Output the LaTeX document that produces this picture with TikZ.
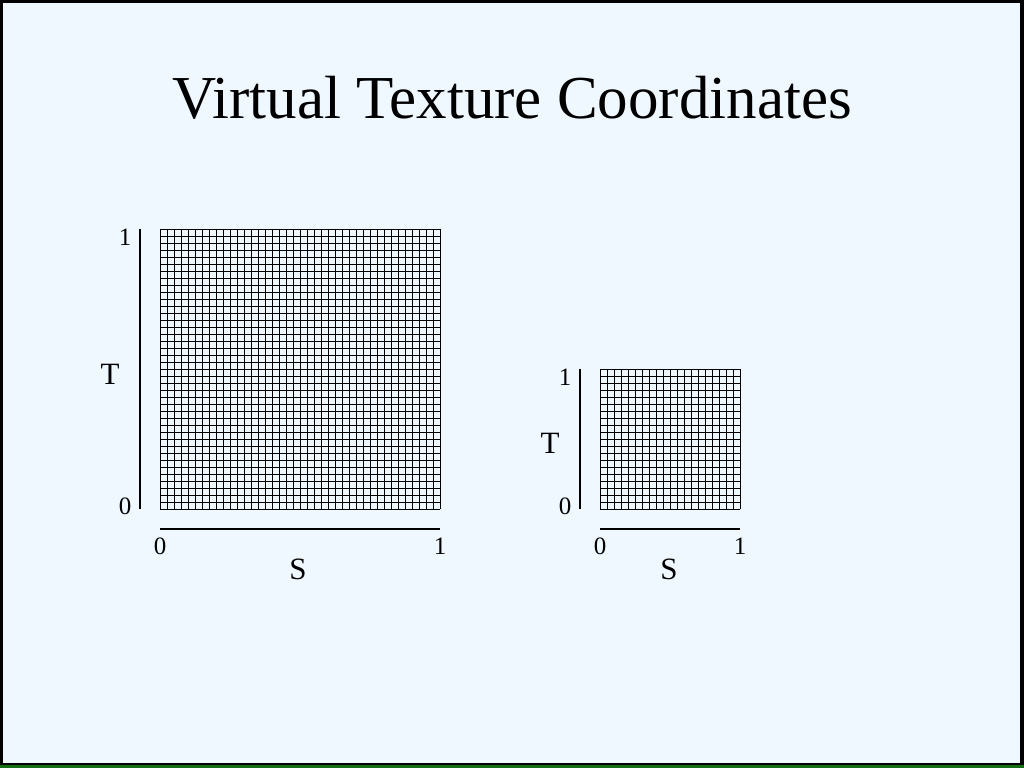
\documentclass[tikz,border=0pt]{standalone}
\usepackage{fontspec}
\setmainfont{Liberation Serif}
\definecolor{bgblue}{RGB}{240,248,255}
\definecolor{edgegreen}{RGB}{20,110,20}
\begin{document}
\begin{tikzpicture}[x=1pt,y=-1pt,
  gridline/.style={line width=1pt,black},
  axisline/.style={line width=2.6pt,black},
  ticklabel/.style={font=\fontsize{25}{25}\selectfont,inner sep=0pt},
  axislabel/.style={font=\fontsize{31}{31}\selectfont,inner sep=0pt}]
\useasboundingbox (0,0) rectangle (1024,768);
\fill[black] (0,0) rectangle (1024,768);
\fill[bgblue] (3,3) rectangle (1020,763);
\fill[edgegreen] (0,765) rectangle (1024,768);
\node[font=\fontsize{61}{61}\selectfont,inner sep=0pt] (title) at (512,98) {Virtual Texture Coordinates};
% large grid
\foreach \i in {0,...,40} {
  \draw[gridline] (160+7*\i,229) -- (160+7*\i,509);
  \draw[gridline] (160,229+7*\i) -- (440,229+7*\i);
}
\coordinate (lvt) at (140,229); \coordinate (lvb) at (140,509);
\coordinate (lhl) at (160,529); \coordinate (lhr) at (440,529);
\draw[axisline] (lvt) -- (lvb);
\draw[axisline] (lhl) -- (lhr);
\node[ticklabel] (l1) at (125,237) {1};
\node[ticklabel] (l0) at (125,506) {0};
\node[axislabel] (lT) at (110,374) {T};
\node[ticklabel] (ls0) at (160,546) {0};
\node[ticklabel] (ls1) at (440,546) {1};
\node[axislabel] (lS) at (298,569) {S};
% small grid
\foreach \i in {0,...,20} {
  \draw[gridline] (600+7*\i,369) -- (600+7*\i,509);
  \draw[gridline] (600,369+7*\i) -- (740,369+7*\i);
}
\coordinate (svt) at (580,369); \coordinate (svb) at (580,509);
\coordinate (shl) at (600,529); \coordinate (shr) at (740,529);
\draw[axisline] (svt) -- (svb);
\draw[axisline] (shl) -- (shr);
\node[ticklabel] (s1) at (565,377) {1};
\node[ticklabel] (s0) at (565,506) {0};
\node[axislabel] (sT) at (550,443) {T};
\node[ticklabel] (ss0) at (600,546) {0};
\node[ticklabel] (ss1) at (740,546) {1};
\node[axislabel] (sS) at (669,569) {S};
\end{tikzpicture}
\end{document}
